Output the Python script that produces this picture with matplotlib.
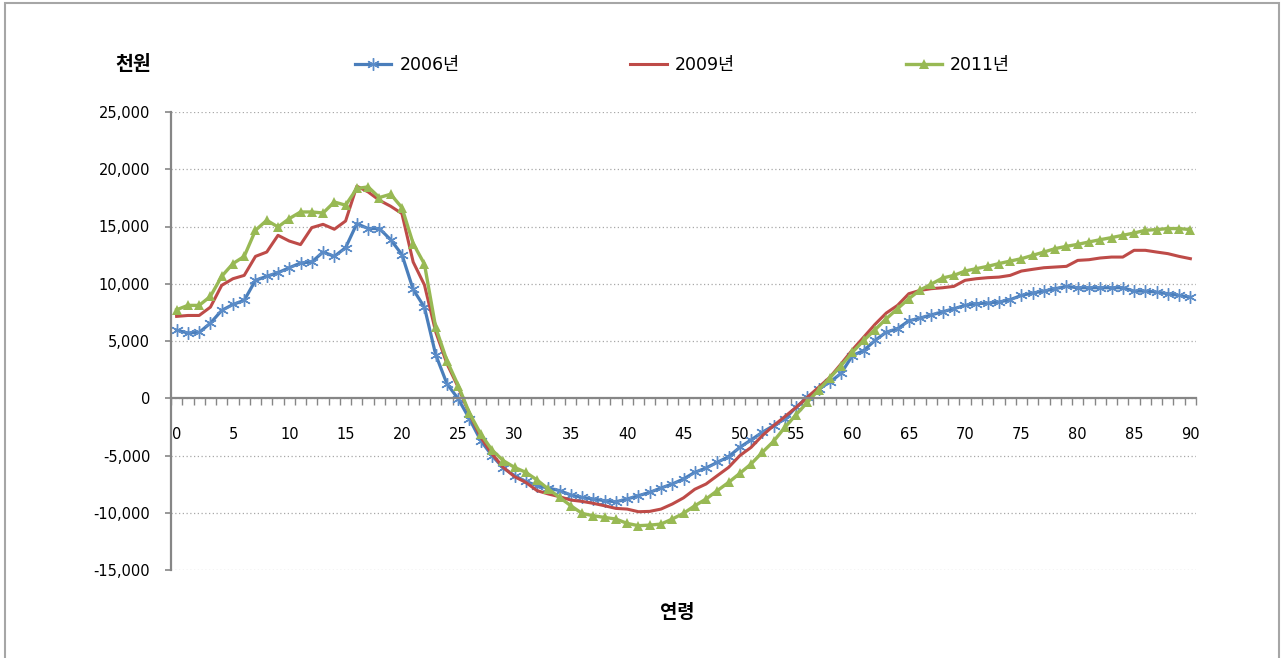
import numpy as np
import matplotlib
matplotlib.use("Agg")
import matplotlib.pyplot as plt
from matplotlib.patches import Rectangle
from matplotlib.ticker import FuncFormatter, MultipleLocator, FixedLocator

plt.rcParams["font.family"] = ["DejaVu Sans", "Noto Sans CJK KR"]

# age 0..90, values in thousand won
ages = list(range(91))

y2006 = [
    5950, 5700, 5750, 6560, 7670, 8190, 8550, 10300, 10650, 10970,
    11400, 11810, 11900, 12770, 12390, 13150, 15250, 14820, 14820, 13850,
    12550, 9500, 7950, 3800, 1260, -50, -1800, -3700, -5010, -6090,
    -6760, -7260, -7640, -7840, -8070, -8450, -8660, -8800, -8950, -9040,
    -8800, -8510, -8220, -7840, -7490, -7050, -6470, -6090, -5600, -5100,
    -4290, -3640, -2970, -2390, -1800, -790, 90, 820, 1400, 2190,
    3730, 4170, 5050, 5770, 6070, 6760, 7000, 7280, 7550, 7820,
    8110, 8260, 8310, 8400, 8610, 8980, 9190, 9360, 9570, 9770,
    9650, 9650, 9650, 9650, 9650, 9360, 9360, 9270, 9130, 8980,
    8830,
]

y2009 = [
    7150, 7230, 7230, 7960, 9860, 10440, 10730, 12390, 12770, 14230,
    13730, 13420, 14900, 15190, 14760, 15480, 18520, 18020, 17290, 16770,
    16130, 11900, 9900, 5800, 3010, 960, -1370, -3410, -4870, -6040,
    -6850, -7350, -8070, -8360, -8600, -8890, -9010, -9180, -9390, -9620,
    -9680, -9910, -9880, -9680, -9240, -8700, -7950, -7490, -6760, -6040,
    -5010, -4290, -3260, -2390, -1600, -790, 90, 960, 1840, 3010,
    4230, 5340, 6450, 7440, 8110, 9130, 9420, 9570, 9650, 9770,
    10300, 10440, 10530, 10580, 10730, 11110, 11260, 11400, 11460, 11520,
    12040, 12100, 12250, 12330, 12330, 12920, 12920, 12770, 12630, 12390,
    12190,
]

y2011 = [
    7730, 8110, 8110, 8900, 10650, 11760, 12390, 14670, 15540, 14960,
    15690, 16270, 16270, 16180, 17140, 16860, 18320, 18460, 17530, 17820,
    16650, 13510, 11720, 6180, 3280, 1110, -1310, -3120, -4520, -5450,
    -6040, -6470, -7140, -7930, -8660, -9390, -10060, -10260, -10410, -10550,
    -10930, -11130, -11080, -10990, -10550, -10050, -9390, -8800, -8070, -7350,
    -6560, -5740, -4720, -3760, -2540, -1430, -350, 730, 1780, 2860,
    4020, 5050, 5980, 6940, 7820, 8690, 9450, 9970, 10500, 10730,
    11110, 11320, 11520, 11760, 11980, 12190, 12480, 12770, 13070, 13270,
    13440, 13650, 13850, 14030, 14230, 14430, 14670, 14730, 14820, 14820,
    14730,
]

labels = ["2006년", "2009년", "2011년"]
colors = ["#4A7EBB", "#BE4B48", "#98B954"]

fig = plt.figure(figsize=(12.81, 6.58), dpi=100)
ax = fig.add_axes([171 / 1281, 1 - 570 / 658, (1196 - 171) / 1281, (570 - 112) / 658])

# outer chart border
fig.add_artist(Rectangle((5 / 1281, -0.02), (1279 - 5) / 1281, 1.02 - 3 / 658,
                         transform=fig.transFigure, fill=False,
                         edgecolor="#a6a6a6", linewidth=1.5))

ax.plot(ages, y2006, color=colors[0], linewidth=2.3, marker=(6, 2, 0),
        markersize=9, markeredgewidth=1.0, markeredgecolor="#5b8cc8", label=labels[0])
ax.plot(ages, y2009, color=colors[1], linewidth=2.2, label=labels[1])
ax.plot(ages, y2011, color=colors[2], linewidth=2.4, marker="^",
        markersize=7.5, markeredgewidth=0, label=labels[2])

ax.set_xlim(-0.5, 90.5)
ax.set_ylim(-15000, 25000)

ax.yaxis.set_major_locator(MultipleLocator(5000))
ax.yaxis.set_major_formatter(FuncFormatter(lambda v, p: f"{int(v):,}"))
ax.grid(axis="y", linestyle=(0, (1, 2)), color="#a8a8a8", linewidth=0.9)

ax.xaxis.set_major_locator(FixedLocator(list(range(0, 91, 5))))
ax.xaxis.set_minor_locator(FixedLocator([a - 0.5 for a in ages] + [90.5]))
ax.tick_params(axis="x", which="major", length=0, pad=21, labelsize=10.5)
ax.tick_params(axis="x", which="minor", length=5, width=1.0, color="#868686", direction="out")
ax.tick_params(axis="y", which="major", length=4.5, width=1.2, color="#868686",
               direction="out", pad=10.5, labelsize=10.5)

for s in ["top", "right"]:
    ax.spines[s].set_visible(False)
ax.spines["bottom"].set_position(("data", 0))
for s in ["left", "bottom"]:
    ax.spines[s].set_color("#868686")
    ax.spines[s].set_linewidth(1.6)

fig.text(133 / 1281, 1 - 65 / 658, "천원", fontsize=14, fontweight="bold",
         ha="center", va="center", family=["Noto Sans CJK KR"])
fig.text(677 / 1281, 1 - 612 / 658, "연령", fontsize=13.5, fontweight="bold",
         ha="center", va="center", family=["Noto Sans CJK KR"])

ax.legend(ncol=3, loc="center left", bbox_to_anchor=(355 / 1281, 1 - 65 / 658),
          bbox_transform=fig.transFigure, frameon=False, fontsize=12.5,
          handlelength=2.1, handletextpad=0.45, columnspacing=9.85,
          borderpad=0, borderaxespad=0)

fig.savefig("out.png", dpi=100)
